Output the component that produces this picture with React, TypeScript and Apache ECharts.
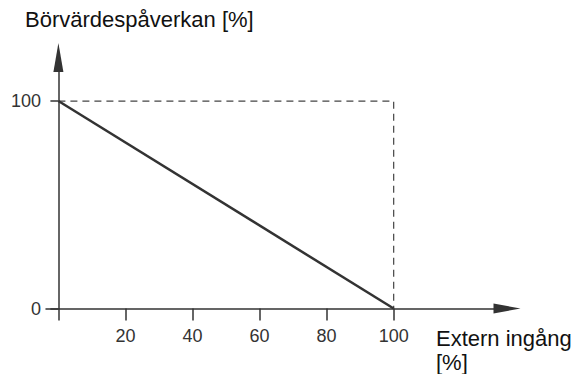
import React, { useEffect, useRef } from "react";
import * as echarts from "echarts";

const lineX = [0, 100];
const lineY = [100, 0];
const guideX = [0, 100, 100];
const guideY = [100, 100, 0];
const xTickValues = [0, 20, 40, 60, 80, 100];
const xLabelValues = [20, 40, 60, 80, 100];
const yTickValues = [0, 100];
const yLabelValues = [0, 100];
const yAxisTitle = "Börvärdespåverkan [%]";
const xAxisTitle1 = "Extern ingång";
const xAxisTitle2 = "[%]";

const FONT = "'Liberation Sans', Arial, sans-serif";
const DARK = "#333333";

export default function App() {
  const ref = useRef<HTMLDivElement>(null);
  useEffect(() => {
    document.body.style.margin = "0";
    const chart = echarts.init(ref.current!, null, { renderer: "svg" });
    chart.setOption({
      animation: false,
      backgroundColor: "#ffffff",
      grid: { left: 46, right: 73, top: 57.5, bottom: 65.5, containLabel: false },
      xAxis: {
        type: "value",
        min: -3.7,
        max: 133.8,
        splitLine: { show: false },
        axisLine: {
          show: true,
          onZero: true,
          symbol: ["none", "triangle"],
          symbolSize: [10, 27],
          lineStyle: { color: DARK, width: 1.5 },
        },
        axisTick: {
          show: true,
          customValues: xTickValues,
          length: 12,
          lineStyle: { color: DARK, width: 1.5 },
        },
        axisLabel: {
          show: true,
          customValues: xLabelValues,
          margin: 18,
          color: DARK,
          fontSize: 18,
          fontFamily: FONT,
        },
      },
      yAxis: {
        type: "value",
        min: 0,
        max: 121,
        splitLine: { show: false },
        axisLine: {
          show: true,
          onZero: true,
          symbol: ["none", "triangle"],
          symbolSize: [10, 29],
          lineStyle: { color: DARK, width: 1.5 },
        },
        axisTick: {
          show: true,
          customValues: yTickValues,
          length: 8,
          lineStyle: { color: DARK, width: 1.5 },
        },
        axisLabel: {
          show: true,
          customValues: yLabelValues,
          margin: 5,
          color: DARK,
          fontSize: 18,
          fontFamily: FONT,
        },
      },
      graphic: [
        {
          type: "text",
          left: 25,
          top: 8,
          style: { text: yAxisTitle, fontSize: 22, fontFamily: FONT, fill: "#111" },
        },
        {
          type: "text",
          x: 436,
          y: 338,
          style: {
            text: xAxisTitle1,
            fontSize: 22,
            fontFamily: FONT,
            fill: "#111",
            verticalAlign: "middle",
          },
        },
        {
          type: "text",
          x: 436,
          y: 362,
          style: {
            text: xAxisTitle2,
            fontSize: 22,
            fontFamily: FONT,
            fill: "#111",
            verticalAlign: "middle",
          },
        },
      ],
      series: [
        {
          type: "line",
          data: guideX.map((x, i) => [x, guideY[i]]),
          symbol: "none",
          lineStyle: { color: "#444", width: 1.2, type: [7, 5] },
          z: 2,
        },
        {
          type: "line",
          data: lineX.map((x, i) => [x, lineY[i]]),
          symbol: "none",
          lineStyle: { color: DARK, width: 2.5 },
          z: 3,
        },
      ],
    });
    return () => chart.dispose();
  }, []);
  return <div ref={ref} style={{ width: 580, height: 374 }} />;
}
